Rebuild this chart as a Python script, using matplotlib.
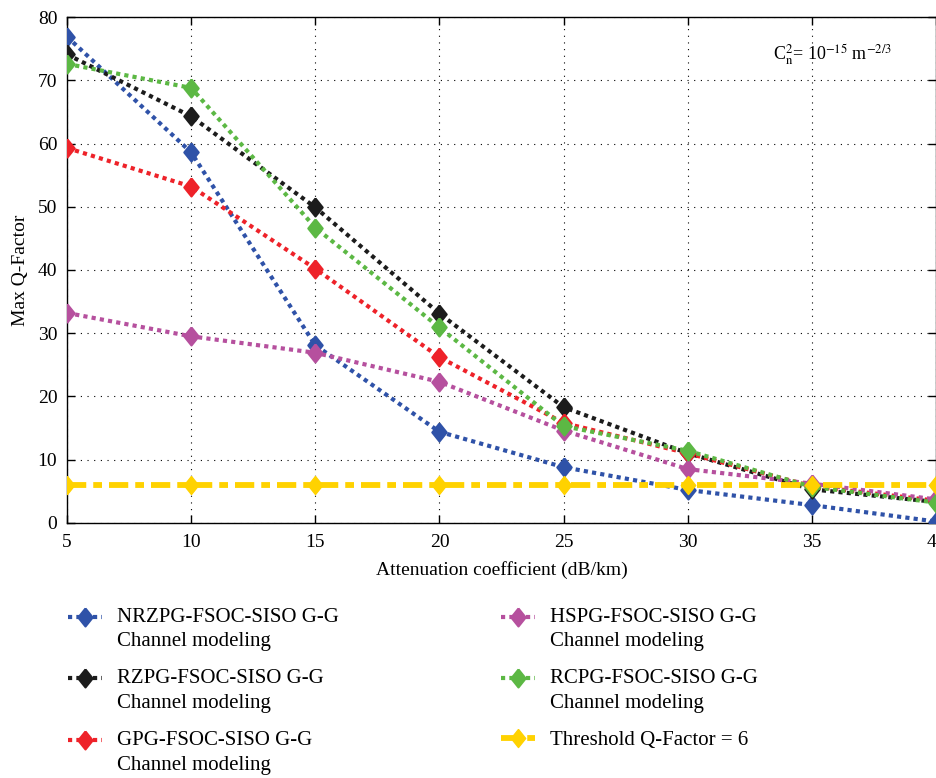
import matplotlib

matplotlib.use("Agg")
import matplotlib.pyplot as plt
from matplotlib.legend_handler import HandlerLine2D
import numpy as np

# values
ATTENUATION = [5, 10, 15, 20, 25, 30, 35, 40]
NRZPG = [76.9, 58.6, 28.1, 14.4, 8.8, 5.2, 2.8, 0.2]
RZPG = [74.1, 64.3, 49.9, 33.1, 18.3, 11.0, 5.3, 3.3]
GPG = [59.3, 53.2, 40.2, 26.2, 15.8, 11.0, 5.8, 3.5]
HSPG = [33.2, 29.5, 26.9, 22.3, 14.6, 8.5, 6.2, 3.7]
RCPG = [72.6, 68.8, 46.7, 30.9, 15.3, 11.4, 5.7, 3.2]
THRESHOLD = [6, 6, 6, 6, 6, 6, 6, 6]

SERIES = [
    ("NRZPG-FSOC-SISO G-G\nChannel modeling", NRZPG, "#2f52a8"),
    ("RZPG-FSOC-SISO G-G\nChannel modeling", RZPG, "#1c1c1c"),
    ("GPG-FSOC-SISO G-G\nChannel modeling", GPG, "#ee2229"),
    ("HSPG-FSOC-SISO G-G\nChannel modeling", HSPG, "#b6509e"),
    ("RCPG-FSOC-SISO G-G\nChannel modeling", RCPG, "#5cb844"),
]
THRESH_LABEL = "Threshold Q-Factor = 6"
THRESH_COLOR = "#ffd200"
X_TICKS = [5, 10, 15, 20, 25, 30, 35, 40]
Y_TICKS = [0, 10, 20, 30, 40, 50, 60, 70, 80]

plt.rcParams["font.family"] = ["Liberation Serif", "DejaVu Serif"]
plt.rcParams["mathtext.fontset"] = "stix"
plt.rcParams["xtick.direction"] = "in"
plt.rcParams["ytick.direction"] = "in"

DIAMOND = [(0, 1), (0.8, 0), (0, -1), (-0.8, 0), (0, 1)]


class TopLineHandler(HandlerLine2D):
    """Put the legend handle next to the first line of a two-line label."""

    def __init__(self, yoffset, **kw):
        super().__init__(**kw)
        self.yoffset = yoffset

    def create_artists(self, legend, orig_handle, xdescent, ydescent, width, height, fontsize, trans):
        artists = super().create_artists(legend, orig_handle, xdescent, ydescent, width, height, fontsize, trans)
        for a in artists:
            a.set_ydata(np.asarray(a.get_ydata(), dtype=float) + self.yoffset)
        return artists


fig = plt.figure(figsize=(9.36, 7.78), dpi=100)
ax = fig.add_axes([0.0716, 0.328, 0.9284, 0.650])

lines = []
for label, values, color in SERIES:
    (ln,) = ax.plot(ATTENUATION, values, linestyle=(0, (1, 1)), linewidth=3.0,
                    dash_capstyle="butt", color=color, marker=DIAMOND, markersize=13,
                    markerfacecolor=color, markeredgecolor=color, markeredgewidth=1.5,
                    label=label, zorder=3)
    lines.append(ln)

(thr,) = ax.plot(ATTENUATION, THRESHOLD, linestyle=(0, (3.3, 1.2, 1.5, 1.2)), linewidth=4.2,
                 dash_capstyle="butt", color=THRESH_COLOR, marker=DIAMOND, markersize=13,
                 markerfacecolor=THRESH_COLOR, markeredgecolor=THRESH_COLOR,
                 label=THRESH_LABEL, zorder=4)

ax.set_xlim(5, 40)
ax.set_ylim(0, 80)
ax.set_xticks(X_TICKS)
ax.set_yticks(Y_TICKS)
ax.tick_params(labelsize=14, top=True, right=True, length=6, width=1.0, pad=7)
ax.tick_params(axis="x", pad=8)
ax.grid(True, linestyle=(0, (1, 5)), color="black", linewidth=0.8)
for spine in ax.spines.values():
    spine.set_linewidth(1.0)

ax.set_xlabel("Attenuation coefficient (dB/km)", fontsize=14, labelpad=7)
ax.set_ylabel("Max Q-Factor", fontsize=14, labelpad=6)

ax.text(0.812, 0.925, r"C$_\mathrm{n}^2$= 10$^{-15}$ m$^{-2/3}$", transform=ax.transAxes,
        fontsize=13, va="center", ha="left")

handler_map = {ln: TopLineHandler(9.0) for ln in lines}
handler_map[thr] = TopLineHandler(0.0)
leg = fig.legend(handles=lines + [thr], loc="upper left",
                 bbox_to_anchor=(0.0525, 0.2432), ncol=2, frameon=False, fontsize=15,
                 handlelength=1.63, labelspacing=0.85, columnspacing=7.8,
                 handletextpad=0.72, handler_map=handler_map)
for t in leg.get_texts():
    t.set_linespacing(1.42)

fig.savefig("out.png", dpi=100)
